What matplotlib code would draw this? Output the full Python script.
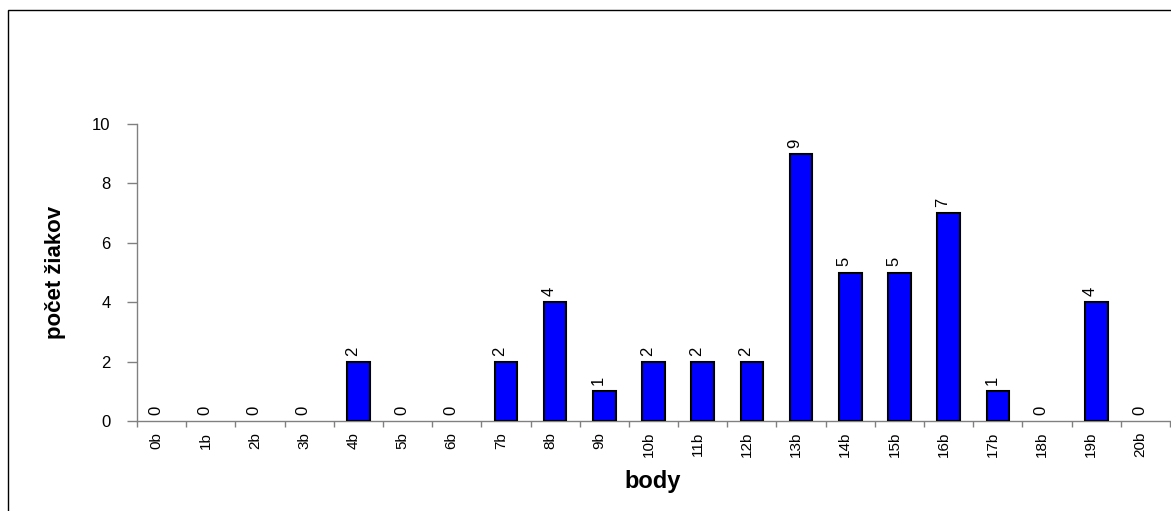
import matplotlib
matplotlib.use("Agg")
import matplotlib.pyplot as plt
import matplotlib.transforms as mtransforms
from matplotlib.patches import Rectangle
import numpy as np

plt.rcParams['font.family'] = ['Liberation Sans', 'DejaVu Sans']

categories = ["0b", "1b", "2b", "3b", "4b", "5b", "6b", "7b", "8b", "9b", "10b",
              "11b", "12b", "13b", "14b", "15b", "16b", "17b", "18b", "19b", "20b"]
values = [0, 0, 0, 0, 2, 0, 0, 2, 4, 1, 2, 2, 2, 9, 5, 5, 7, 1, 0, 4, 0]
yticks = [0, 2, 4, 6, 8, 10]
xlabel = "body"
ylabel = "počet žiakov"

W, H = 1171, 511
fig = plt.figure(figsize=(W / 100, H / 100), dpi=100)
ax = fig.add_axes([137 / W, 1 - 421 / H, (1170 - 137) / W, (421 - 124) / H])

x = np.arange(len(categories))
edges = ["black" if v > 0 else "none" for v in values]
ax.bar(x, values, width=0.46, color="#0000FF", edgecolor=edges, linewidth=1.5, zorder=3)

ax.set_xlim(-0.5, len(categories) - 0.5)
ax.set_ylim(0, 10)

for s in ["top", "right"]:
    ax.spines[s].set_visible(False)
for s in ["left", "bottom"]:
    ax.spines[s].set_color("#808080")
    ax.spines[s].set_linewidth(1)

ax.set_yticks(yticks)
ax.set_yticklabels([str(v) for v in yticks], fontsize=12)
ax.tick_params(axis="y", direction="out", length=7, width=1, color="#808080", pad=12)

ax.set_xticks(x)
ax.set_xticklabels(categories, rotation=90, fontsize=11, va="top", ha="center")
ax.set_xticks(np.arange(-0.5, len(categories) + 0.5, 1), minor=True)
ax.tick_params(axis="x", which="major", length=0, pad=8)
ax.tick_params(axis="x", which="minor", direction="out", length=4, width=1, color="#808080")

offset = mtransforms.ScaledTranslation(-5 / 100, 0, fig.dpi_scale_trans)
for lbl in ax.get_xticklabels():
    lbl.set_transform(lbl.get_transform() + offset)

for xi, v in zip(x, values):
    ax.annotate(str(v), (xi, v), xytext=(-6, 6), textcoords="offset pixels",
                rotation=90, ha="center", va="bottom", fontsize=12, zorder=4)

fig.text(55 / W, 1 - 272 / H, ylabel, rotation=90, ha="center", va="center",
         fontsize=16, fontweight="bold")
fig.text(653 / W, 1 - 481 / H, xlabel, ha="center", va="center",
         fontsize=17, fontweight="bold")

fig.add_artist(Rectangle((8 / W, -0.1), 1.2, (1 - 10 / H) + 0.1, transform=fig.transFigure,
                         fill=False, edgecolor="black", linewidth=1))

fig.savefig("out.png", dpi=100)
